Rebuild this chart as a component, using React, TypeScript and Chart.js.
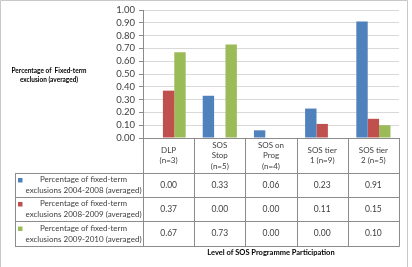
import React, { useEffect, useRef } from "react";
import { Chart, registerables } from "chart.js";

Chart.register(...registerables);

const categories: string[][] = [
  ["DLP", "(n=3)"],
  ["SOS", "Stop", "(n=5)"],
  ["SOS on", "Prog", "(n=4)"],
  ["SOS tier", "1 (n=9)"],
  ["SOS tier", "2 (n=5)"],
];
const seriesNames: string[][] = [
  ["Percentage of fixed-term", "exclusions 2004-2008 (averaged)"],
  ["Percentage of fixed-term", "exclusions 2008-2009 (averaged)"],
  ["Percentage of fixed-term", "exclusions 2009-2010 (averaged)"],
];
const values2004to2008 = [0.0, 0.33, 0.06, 0.23, 0.91];
const values2008to2009 = [0.37, 0.0, 0.0, 0.11, 0.15];
const values2009to2010 = [0.67, 0.73, 0.0, 0.0, 0.1];
const seriesColors = ["#4F81BD", "#C0504D", "#9BBB59"];
const yTitle = ["Percentage of  Fixed-term", "exclusion (averaged)"];
const xTitle = "Level of SOS Programme Participation";

const FONT = "Lato, 'Liberation Sans', sans-serif";
const TEXT = "#404040";
const LINE = "#8c8c8c";

const allSeries = [values2004to2008, values2008to2009, values2009to2010];

const tablePlugin = {
  id: "dataTable",
  afterDraw(chart: any) {
    const ctx = chart.ctx as CanvasRenderingContext2D;
    const area = chart.chartArea;
    const xs = chart.scales.x;
    const n = categories.length;
    const w = (area.right - area.left) / n;
    const top = area.bottom;
    const rows = [top, top + 35, top + 59, top + 83, top + 108];
    const tableLeft = 15;
    const px = (v: number) => Math.round(v) + 0.5;

    ctx.save();
    // outer frame
    ctx.strokeStyle = "#c8c8c8";
    ctx.lineWidth = 1;
    ctx.beginPath();
    ctx.moveTo(0.5, 267);
    ctx.lineTo(0.5, 0.5);
    ctx.lineTo(407.5, 0.5);
    ctx.lineTo(407.5, 267);
    ctx.stroke();

    ctx.strokeStyle = LINE;
    ctx.beginPath();
    ctx.moveTo(area.left, px(top));
    ctx.lineTo(area.right, px(top));
    for (let r = 1; r < rows.length; r++) {
      ctx.moveTo(tableLeft, px(rows[r]));
      ctx.lineTo(area.right + 0.5, px(rows[r]));
    }
    for (let i = 0; i <= n; i++) {
      const x = px(area.left + i * w);
      ctx.moveTo(x, top);
      ctx.lineTo(x, px(rows[4]));
    }
    ctx.moveTo(px(tableLeft), px(rows[1]));
    ctx.lineTo(px(tableLeft), px(rows[4]));
    ctx.stroke();

    ctx.fillStyle = TEXT;
    ctx.textAlign = "center";
    ctx.textBaseline = "middle";
    ctx.font = `8px ${FONT}`;
    categories.forEach((lines, i) => {
      const cx = xs.getPixelForValue(i);
      const lh = 10.5;
      const cy = (rows[0] + rows[1]) / 2;
      const start = cy - ((lines.length - 1) * lh) / 2;
      lines.forEach((t, k) => ctx.fillText(t, cx, start + k * lh));
    });
    allSeries.forEach((vals, s) => {
      const cy = (rows[s + 1] + rows[s + 2]) / 2;
      ctx.fillStyle = seriesColors[s];
      ctx.fillRect(18, cy - 7, 4.5, 4.5);
      ctx.fillStyle = TEXT;
      ctx.font = `8px ${FONT}`;
      const tx = (24 + area.left) / 2;
      ctx.fillText(seriesNames[s][0], tx, cy - 5.3);
      ctx.fillText(seriesNames[s][1], tx, cy + 5.5);
      ctx.font = `8.5px ${FONT}`;
      vals.forEach((v, i) => {
        ctx.fillText(v.toFixed(2), xs.getPixelForValue(i), cy);
      });
    });

    ctx.fillStyle = "#000000";
    ctx.font = `bold 7.5px ${FONT}`;
    ctx.fillText(xTitle, (area.left + area.right) / 2, 253);
    ctx.font = `bold 6.5px ${FONT}`;
    ctx.fillText(yTitle[0], 49, 70.5);
    ctx.fillText(yTitle[1], 49, 80);
    ctx.restore();
  },
};

export default function App() {
  const ref = useRef<HTMLCanvasElement | null>(null);
  useEffect(() => {
    if (!ref.current) return;
    const chart = new Chart(ref.current, {
      type: "bar",
      data: {
        labels: categories.map((c) => c.join(" ")),
        datasets: allSeries.map((vals, s) => ({
          label: seriesNames[s].join(" "),
          data: vals,
          backgroundColor: seriesColors[s],
          borderWidth: 0,
          categoryPercentage: 0.667,
          barPercentage: 1,
        })),
      },
      options: {
        responsive: false,
        animation: false,
        devicePixelRatio: 1,
        layout: { padding: { left: 0, top: 10, right: 13, bottom: 129 } },
        plugins: { legend: { display: false }, tooltip: { enabled: false } },
        scales: {
          x: { display: false },
          y: {
            min: 0,
            max: 1,
            afterFit: (s: any) => {
              s.width = 143;
            },
            ticks: {
              stepSize: 0.1,
              autoSkip: false,
              padding: 4,
              color: TEXT,
              font: { family: FONT, size: 9.5 },
              callback: (v: any) => Number(v).toFixed(2),
            },
            grid: { color: "#d9d9d9", tickLength: 4, tickColor: LINE },
            border: { color: LINE },
          },
        },
      },
      plugins: [tablePlugin],
    });
    return () => chart.destroy();
  }, []);
  return (
    <div style={{ position: "absolute", left: 0, top: 0, width: 412, height: 267, background: "#fff" }}>
      <canvas ref={ref} width={412} height={267} style={{ display: "block" }} />
    </div>
  );
}
